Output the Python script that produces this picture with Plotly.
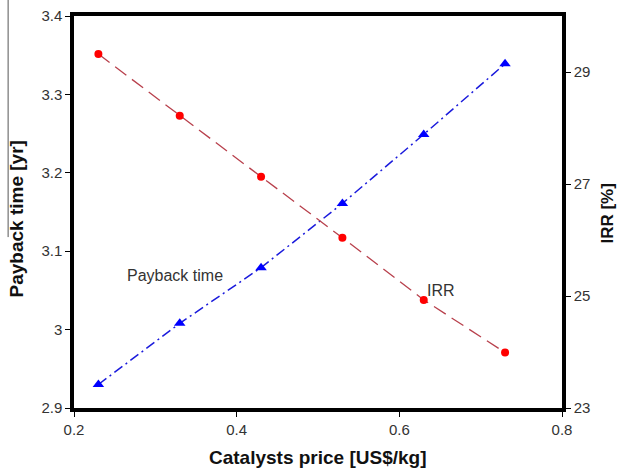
import plotly.graph_objects as go

price = [0.23, 0.33, 0.43, 0.53, 0.63, 0.73]
payback_time = [2.93, 3.008, 3.079, 3.161, 3.249, 3.339]
irr = [29.32, 28.22, 27.13, 26.04, 24.93, 23.99]

x_ticks = [0.2, 0.4, 0.6, 0.8]
y_ticks = [2.9, 3.0, 3.1, 3.2, 3.3, 3.4]
y2_ticks = [23, 25, 27, 29]

FONT = "Liberation Sans, Arial, sans-serif"

fig = go.Figure()
fig.add_trace(go.Scatter(
    x=price, y=payback_time, mode="lines+markers", name="Payback time",
    line=dict(color="#1a1adc", width=1.5, dash="10px,4px,2px,4px"),
    marker=dict(symbol="triangle-up", size=10, color="#0000ff"),
    yaxis="y"))
fig.add_trace(go.Scatter(
    x=price, y=irr, mode="lines+markers", name="IRR",
    line=dict(color="#b8404c", width=1.3, dash="14px,7px"),
    marker=dict(symbol="circle", size=8, color="#ff0000"),
    yaxis="y2"))

axis_common = dict(showline=True, linecolor="black", linewidth=3.5,
                   ticks="outside", ticklen=5, tickwidth=1, tickcolor="black",
                   showgrid=False, zeroline=False, automargin=False,
                   tickfont=dict(family=FONT, size=15, color="#333333"))

fig.update_layout(
    width=619, height=468,
    margin=dict(l=74, r=57, t=16, b=60, autoexpand=False),
    paper_bgcolor="white", plot_bgcolor="white",
    showlegend=False,
    xaxis=dict(range=[0.2, 0.8], tickvals=x_ticks, ticktext=[f"{v:.1f}" for v in x_ticks],
               mirror=True, **axis_common),
    yaxis=dict(range=[2.9, 3.4], tickvals=y_ticks,
               ticktext=["2.9", "3", "3.1", "3.2", "3.3", "3.4"], **axis_common),
    yaxis2=dict(range=[23, 30], tickvals=y2_ticks, overlaying="y", side="right",
                **axis_common),
    annotations=[
        dict(text="<b>Catalysts price [US$/kg]</b>", xref="paper", yref="paper",
             x=0.501, y=-0.125, xanchor="center", yanchor="middle", showarrow=False,
             font=dict(family=FONT, size=19, color="#111111")),
        dict(text="<b>Payback time [yr]</b>", xref="paper", yref="paper",
             x=-0.118, y=0.482, textangle=-90, xanchor="center", yanchor="middle",
             showarrow=False, font=dict(family=FONT, size=19, color="#111111")),
        dict(text="<b>IRR [%]</b>", xref="paper", yref="paper",
             x=1.093, y=0.497, textangle=-90, xanchor="center", yanchor="middle",
             showarrow=False, font=dict(family=FONT, size=17, color="#111111")),
        dict(text="Payback time", xref="x", yref="y", x=0.263, y=3.069,
             xanchor="left", yanchor="middle", showarrow=False,
             font=dict(family=FONT, size=16, color="#333333")),
        dict(text="IRR", xref="x", yref="y", x=0.632, y=3.05,
             xanchor="left", yanchor="middle", showarrow=False,
             font=dict(family=FONT, size=16, color="#333333")),
    ],
    shapes=[dict(type="line", xref="paper", yref="paper", x0=-0.135, x1=-0.135,
                 y0=0.436, y1=1.05, line=dict(color="#555555", width=1))],
)

fig.write_html("out.html")
